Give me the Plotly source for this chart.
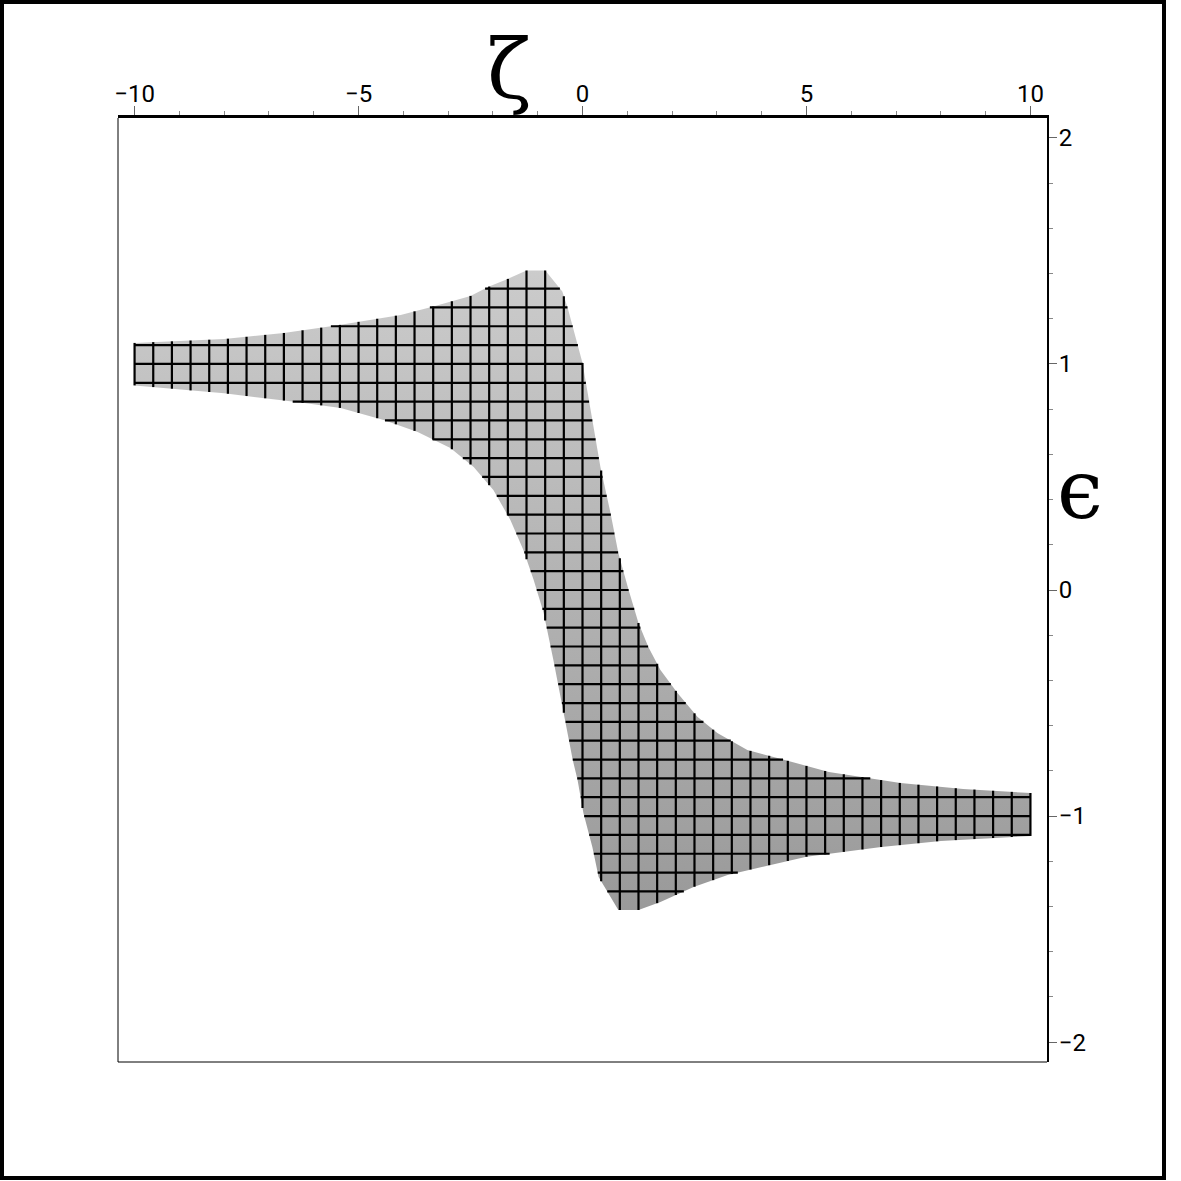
import numpy as np
import plotly.graph_objects as go

# boundary of the shaded band (zeta, epsilon)
upper_x = [-10, -8, -6.67, -5.5, -4.06, -3.33, -2.5, -2.1, -1.67, -1.25, -0.83, -0.45, -0.33,
           -0.13, 0.0, 0.22, 0.40, 0.625, 0.80, 1.03, 1.25, 1.47, 1.74, 2.12, 2.57, 3.01,
           3.68, 4.35, 5.5, 7.1, 8.5, 10]
upper_y = [1.093, 1.11, 1.137, 1.17, 1.217, 1.254, 1.301, 1.341, 1.376, 1.413, 1.413, 1.32, 1.248,
           1.106, 1.004, 0.752, 0.544, 0.341, 0.164, 0.0, -0.146, -0.252, -0.354, -0.456, -0.562, -0.633,
           -0.708, -0.743, -0.805, -0.854, -0.88, -0.898]

lower_x = [-10, -8, -6.29, -5.40, -4.44, -3.68, -2.95, -2.43, -1.99, -1.61, -1.32, -1.09, -0.87,
           -0.65, -0.56, -0.40, -0.22, -0.11, 0.02, 0.22, 0.36, 0.80, 1.25, 1.74, 2.48, 3.24,
           3.97, 5.0, 6.67, 8.0, 10]
lower_y = [0.905, 0.87, 0.829, 0.805, 0.752, 0.699, 0.628, 0.544, 0.442, 0.31, 0.177, 0.044, -0.10,
           -0.31, -0.40, -0.56, -0.75, -0.84, -0.987, -1.137, -1.27, -1.416, -1.416, -1.38, -1.314, -1.261,
           -1.226, -1.18, -1.137, -1.11, -1.088]

# mesh spacing of the surface patch grid
mesh_dx = 5 / 12
mesh_dy = 1 / 12

FONT = "Roboto, Liberation Sans, sans-serif"

# polygon of the band
poly_x = list(upper_x) + list(lower_x[::-1])
poly_y = list(upper_y) + list(lower_y[::-1])


def up(x):
    return np.interp(x, upper_x, upper_y)


def lo(x):
    return np.interp(x, lower_x, lower_y)


# mesh lines clipped to the band
mx, my = [], []
for xv in np.arange(-10, 10 + 1e-9, mesh_dx):
    mx += [xv, xv, None]
    my += [float(lo(xv)), float(up(xv)), None]

xs = np.linspace(-10, 10, 8001)
ups, los = up(xs), lo(xs)
for j in range(-17, 18):
    yv = j * mesh_dy
    inside = (los <= yv) & (ups >= yv)
    if not inside.any():
        continue
    idx = np.flatnonzero(inside)
    breaks = np.flatnonzero(np.diff(idx) > 1)
    starts = np.r_[idx[0], idx[breaks + 1]]
    ends = np.r_[idx[breaks], idx[-1]]
    for s, e in zip(starts, ends):
        mx += [xs[s], xs[e], None]
        my += [yv, yv, None]

fig = go.Figure()
fig.add_trace(go.Scatter(
    x=poly_x, y=poly_y, mode='lines', fill='toself',
    line=dict(width=0, color='#b0b0b0'),
    fillgradient=dict(type='vertical', start=-1.45, stop=1.45,
                      colorscale=[[0, '#999999'], [1, '#cccccc']]),
    hoverinfo='skip', showlegend=False
))
fig.add_trace(go.Scatter(
    x=mx, y=my, mode='lines', line=dict(color='black', width=2.2),
    hoverinfo='skip', showlegend=False
))

# plot box in pixels: left 118, right 1047, top 118, bottom 1062
W, H = 1181, 1181
L, R, T, B = 118, 1047, 118, 1062


def px(p):
    return (p - L) / (R - L)


def py(p):
    return (B - p) / (B - T)


fig.update_layout(
    width=W, height=H,
    margin=dict(l=L, r=W - R, t=T, b=H - B),
    paper_bgcolor='white', plot_bgcolor='white',
    xaxis=dict(
        range=[-10.37, 10.37], side='top', dtick=5, tick0=0,
        ticks='outside', ticklen=9, tickwidth=1, tickcolor='#666666',
        minor=dict(ticks='outside', dtick=1, tick0=0, ticklen=4, tickcolor='#888888'),
        showline=True, linewidth=3, linecolor='black', mirror=False,
        showgrid=False, zeroline=False, ticklabelstandoff=-6,
        tickfont=dict(family=FONT, size=24, color='black'),
    ),
    yaxis=dict(
        range=[-2.088, 2.088], side='right', dtick=1, tick0=0,
        ticks='outside', ticklen=8, tickwidth=1, tickcolor='#666666',
        minor=dict(ticks='outside', dtick=0.2, tick0=0, ticklen=4, tickcolor='#888888'),
        showline=True, linewidth=2, linecolor='black', mirror=False,
        showgrid=False, zeroline=False, ticklabelstandoff=-3,
        tickfont=dict(family=FONT, size=24, color='black'),
    ),
    shapes=[
        dict(type='line', xref='paper', yref='paper', x0=0, x1=0, y0=0, y1=1,
             line=dict(color='black', width=1)),
        dict(type='line', xref='paper', yref='paper', x0=0, x1=1, y0=0, y1=0,
             line=dict(color='black', width=1)),
        dict(type='rect', xref='paper', yref='paper',
             x0=px(2), x1=px(1164), y0=py(1178), y1=py(2),
             line=dict(color='black', width=4)),
    ],
    annotations=[
        dict(text='ζ', xref='x', yref='paper', x=-1.65, y=py(70),
             showarrow=False, xanchor='center', yanchor='middle',
             font=dict(family='DejaVu Serif, serif', size=82, color='black')),
        dict(text='ϵ', xref='paper', yref='paper', x=px(1080), y=py(490),
             showarrow=False, xanchor='center', yanchor='middle',
             font=dict(family='DejaVu Serif, serif', size=82, color='black')),
    ],
)

fig.write_html("out.html", config={'displayModeBar': False},
               post_script="document.body.style.margin='0px';")
